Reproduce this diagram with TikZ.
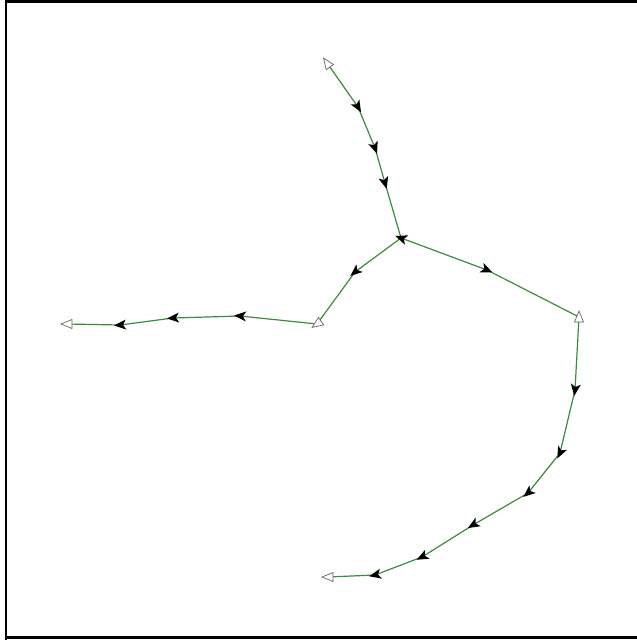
\documentclass[tikz,border=0pt]{standalone}
\definecolor{lg}{RGB}{60,140,60}
\tikzset{
  mk/.pic={\fill[black] (6,0) -- (-6,5) -- (-3,0) -- (-6,-5) -- cycle;},
  openmk/.pic={\draw[black!60, fill=white, line width=0.7pt] (6,0) -- (-5,4.5) -- (-5,-4.5) -- cycle;},
  wire/.style={draw=lg, line width=1.2pt, line join=round},
  frame/.style={draw=black, line width=2.6pt}
}
\begin{document}
\begin{tikzpicture}[x=1pt,y=-1pt]
\useasboundingbox (0,0) rectangle (637,640);
% frame
\coordinate (fa) at (6,640);
\coordinate (fb) at (6,1.5);
\coordinate (fc) at (637,1.5);
\coordinate (fd) at (6,637.5);
\coordinate (fe) at (637,637.5);
\draw[frame] (fa) -- (fb) -- (fc);
\draw[frame] (fd) -- (fe);
% points
\coordinate (T0) at (327,63);
\coordinate (t1) at (358,107);
\coordinate (t2) at (375,148);
\coordinate (t3) at (385,183);
\coordinate (J) at (401,238);
\coordinate (u1) at (355,272);
\coordinate (L1) at (317,324);
\coordinate (l1) at (240,316);
\coordinate (l2) at (173,318);
\coordinate (l3) at (120,325);
\coordinate (L0) at (67,324);
\coordinate (r1) at (487,270);
\coordinate (R1) at (579,317);
\coordinate (c1) at (575,390);
\coordinate (c2) at (560,453);
\coordinate (c3) at (528,493);
\coordinate (c4) at (473,525);
\coordinate (c5) at (422,557);
\coordinate (c6) at (375,575);
\coordinate (C0) at (328,577);
% wires
\draw[wire] (T0) -- (t1) -- (t2) -- (t3) -- (J);
\draw[wire] (J) -- (u1) -- (L1) -- (l1) -- (l2) -- (l3) -- (L0);
\draw[wire] (J) -- (r1) -- (R1);
\draw[wire] (R1) -- (c1) -- (c2) -- (c3) -- (c4) -- (c5) -- (c6) -- (C0);
% black markers
\pic[rotate=-60] at (t1) {mk};
\pic[rotate=-70] at (t2) {mk};
\pic[rotate=-74] at (t3) {mk};
\pic[rotate=160] at (J) {mk};
\pic[rotate=-140] at (u1) {mk};
\pic[rotate=176] at (l1) {mk};
\pic[rotate=-176] at (l2) {mk};
\pic[rotate=-176] at (l3) {mk};
\pic[rotate=-23] at (r1) {mk};
\pic[rotate=-98] at (c1) {mk};
\pic[rotate=-116] at (c2) {mk};
\pic[rotate=-140] at (c3) {mk};
\pic[rotate=-149] at (c4) {mk};
\pic[rotate=-153] at (c5) {mk};
\pic[rotate=-168] at (c6) {mk};
% open end markers
\pic[rotate=125] at (T0) {openmk};
\pic[rotate=-145] at (L1) {openmk};
\pic[rotate=180] at (L0) {openmk};
\pic[rotate=90] at (R1) {openmk};
\pic[rotate=180] at (C0) {openmk};
\end{tikzpicture}
\end{document}
